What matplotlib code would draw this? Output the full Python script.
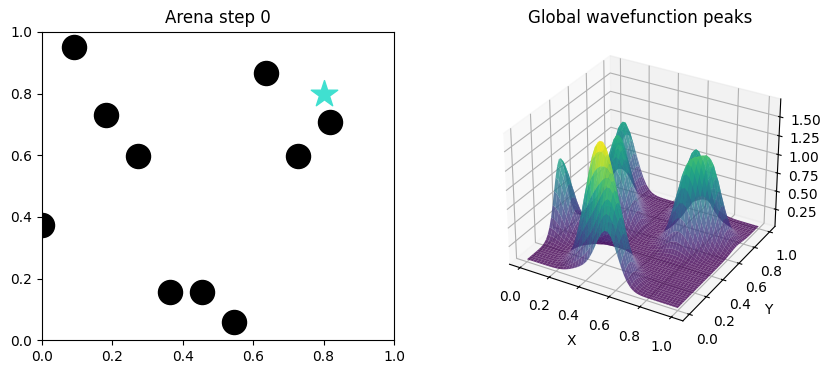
import numpy as np
import matplotlib
matplotlib.use("Agg")
import matplotlib.pyplot as plt

# Arena points
agent_x = [0.0, 0.0909, 0.1818, 0.2727, 0.3636, 0.4545, 0.5455, 0.6364, 0.7273, 0.8182]
agent_y = [0.375, 0.95, 0.73, 0.597, 0.156, 0.156, 0.06, 0.865, 0.597, 0.707]
star_x = [0.8]
star_y = [0.8]

# Visible surface peaks: estimated centre x, centre y, height, width
peak_x = agent_x
peak_y = agent_y
peak_h = [0.985, 0.985, 0.985, 0.985, 0.985, 0.985, 0.985, 0.985, 0.985, 0.985]
peak_s = [0.07, 0.07, 0.07, 0.07, 0.07, 0.07, 0.07, 0.07, 0.07, 0.07]
floor_z = 0.045

fig = plt.figure(figsize=(8.31, 3.74), dpi=100)
ax = fig.add_axes([0.0505, 0.09, 0.4236, 0.825])
ax.scatter(agent_x, agent_y, s=300, c="black")
ax.scatter(star_x, star_y, s=400, c="turquoise", marker="*")
ax.set_xlim(0, 1)
ax.set_ylim(0, 1)
ax.set_title("Arena step 0", fontsize=12)

ax3 = fig.add_axes([0.559, 0.09, 0.4236, 0.825], projection="3d")
gx = np.linspace(0, 1, 50)
gy = np.linspace(0, 1, 50)
X, Y = np.meshgrid(gx, gy)
Z = np.full_like(X, floor_z)
for px, py, ph, ps in zip(peak_x, peak_y, peak_h, peak_s):
    Z += ph * np.exp(-((X - px) ** 2 + (Y - py) ** 2) / (2 * ps ** 2))
ax3.plot_surface(X, Y, Z, cmap="viridis", alpha=0.8)
ax3.set_xlabel("X")
ax3.set_ylabel("Y")
ax3.set_title("Global wavefunction peaks", fontsize=12)
fig.savefig("out.png", dpi=100)
